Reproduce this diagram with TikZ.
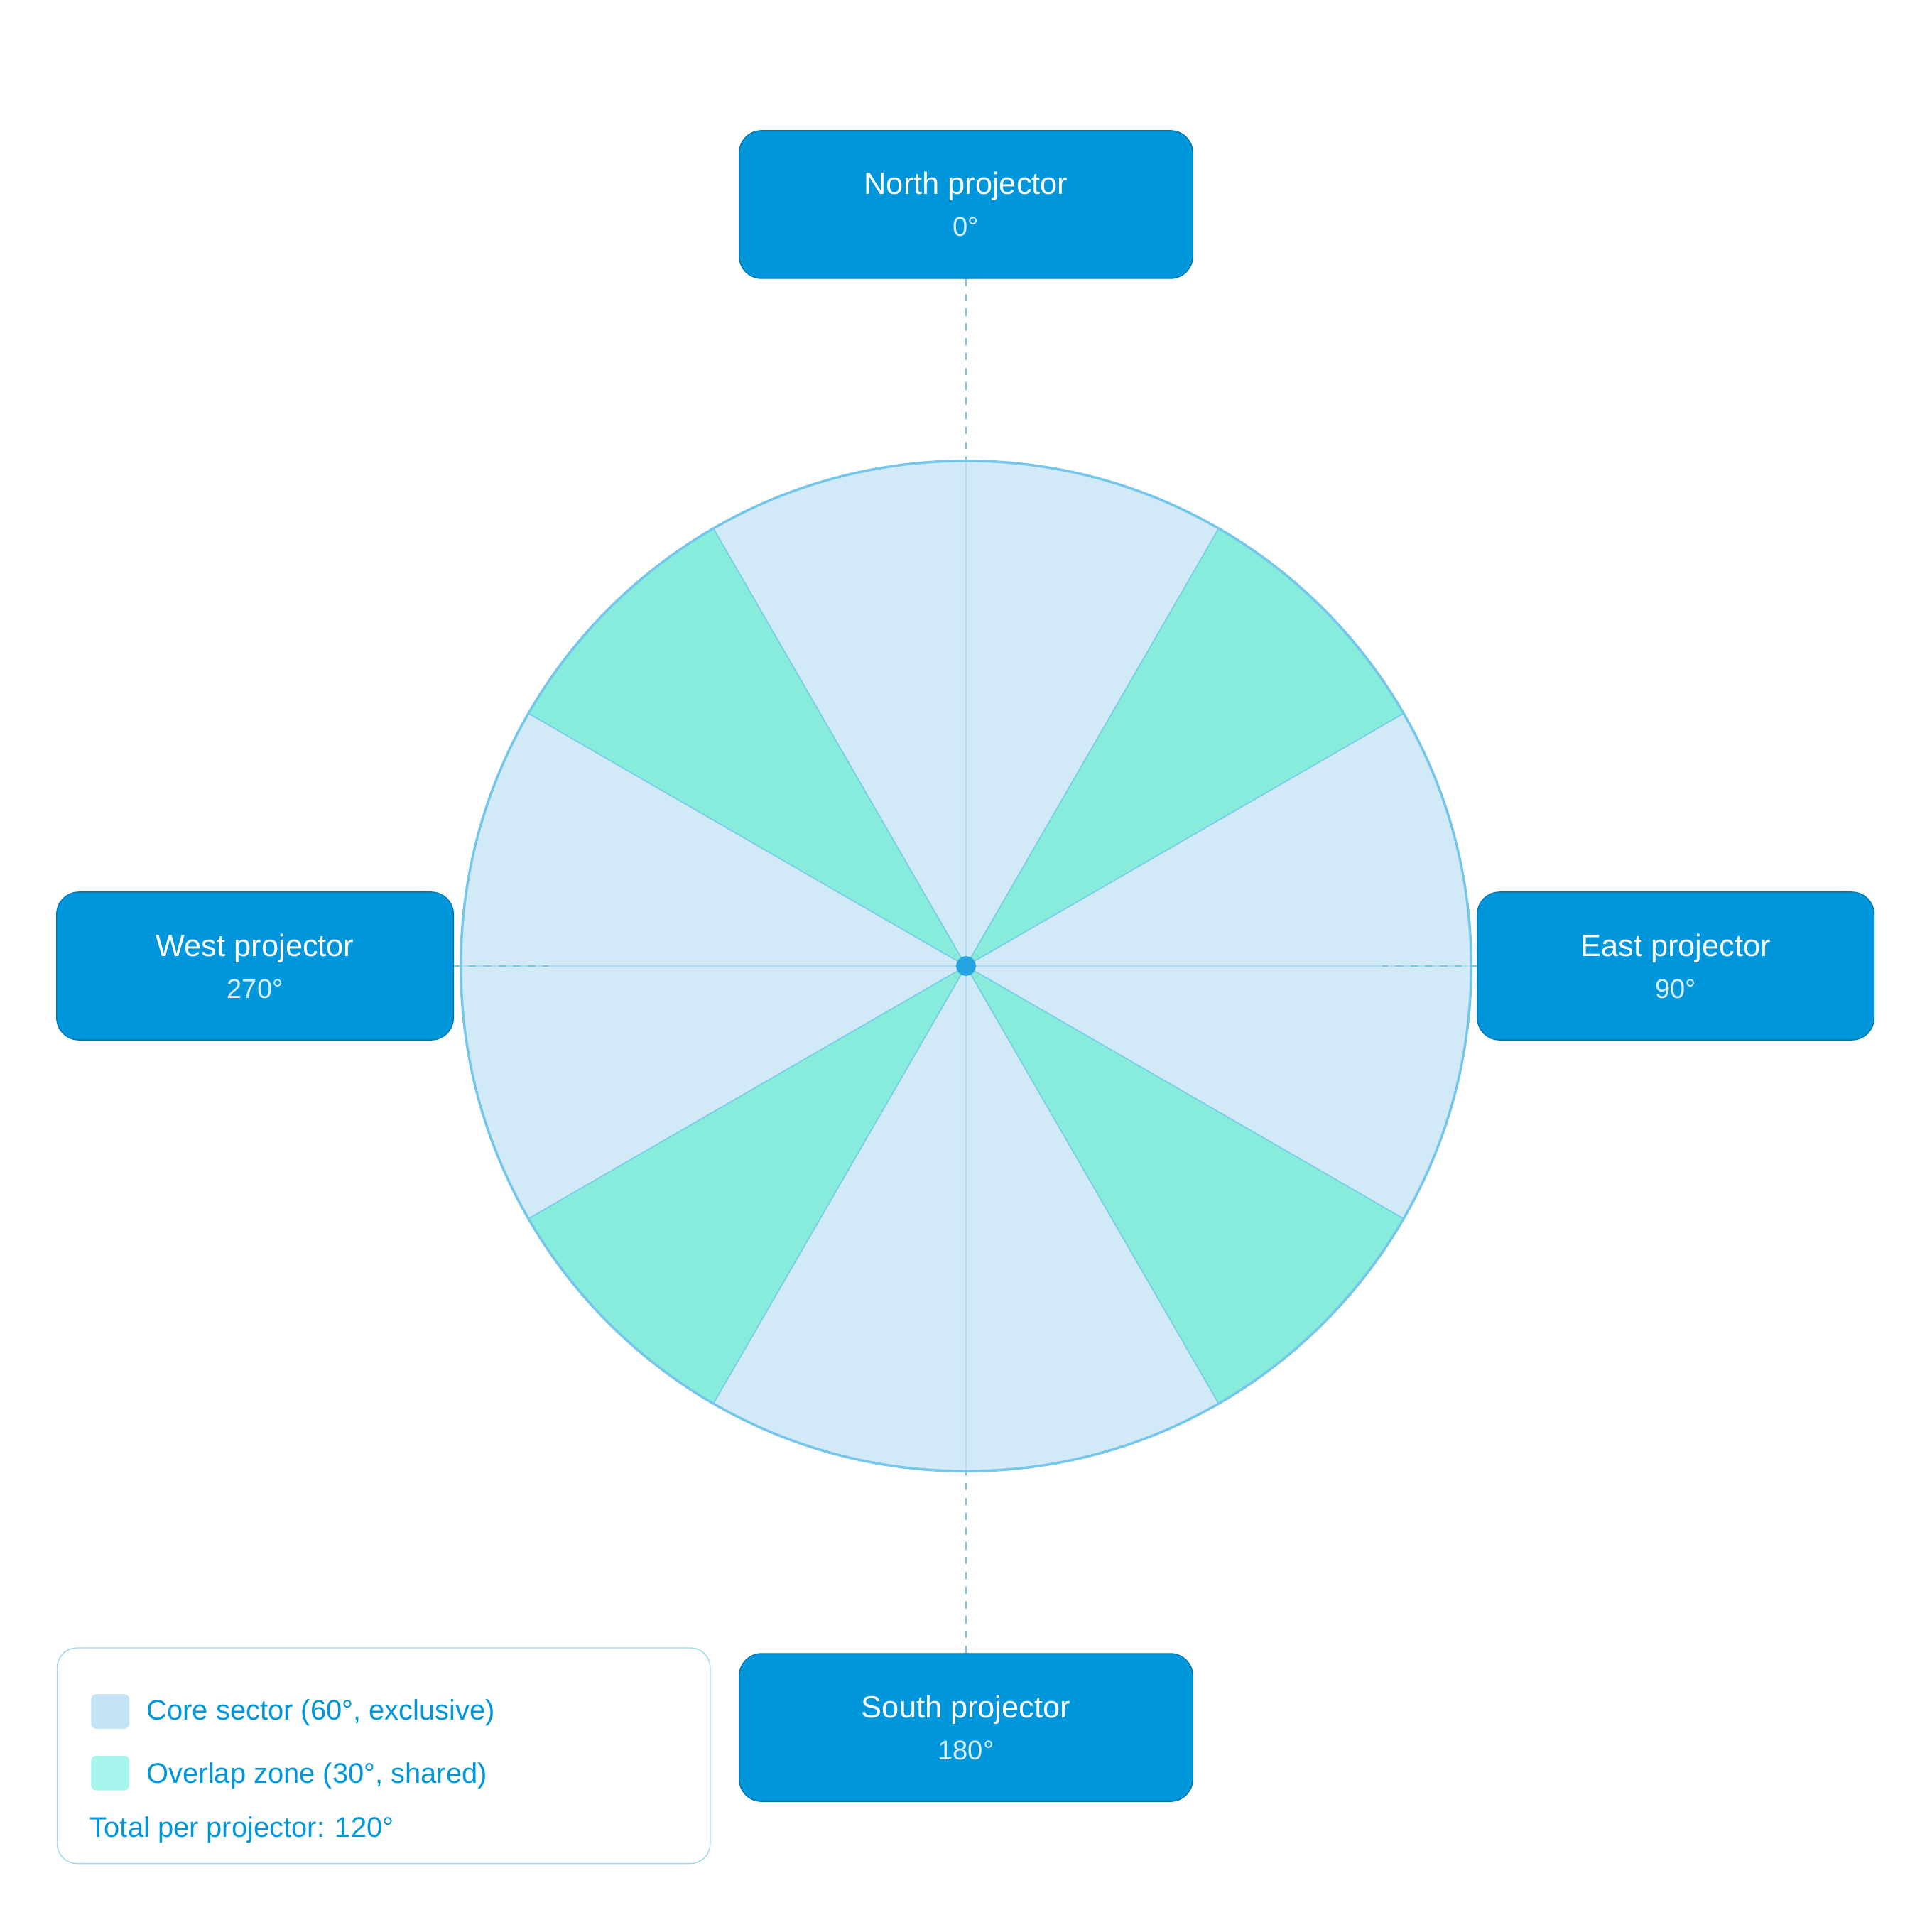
\documentclass[tikz,border=0pt]{standalone}
\usepackage{fontspec}
\setmainfont{Liberation Sans}
\definecolor{core}{HTML}{D2EAF7}
\definecolor{lap}{HTML}{88ECDC}
\definecolor{proj}{HTML}{0096DC}
\definecolor{rim}{HTML}{74C6EA}
\definecolor{sub}{HTML}{D8EEFA}
\tikzset{
  projbox/.style={draw=proj!80!black, fill=proj, rounded corners=9pt, minimum width=184pt, minimum height=60pt, align=center, text=white, font=\fontsize{12.5}{19}\selectfont},
  leader/.style={rim, dashed, line width=0.6pt},
  legtext/.style={anchor=west, text=proj, font=\fontsize{11.5}{14}\selectfont}
}
\begin{document}
\begin{tikzpicture}[x=0.5pt,y=-0.5pt]
        \useasboundingbox (0,0) rectangle (1568,1568);
        % sectors
        \foreach \a in {-30,60,150,240}
          \fill[core] (784,784) -- ++(\a:410) arc[start angle=\a,delta angle=60,radius=410] -- cycle;
        \foreach \a in {30,120,210,300}
          \fill[lap] (784,784) -- ++(\a:410) arc[start angle=\a,delta angle=30,radius=410] -- cycle;
        \foreach \a in {30,60,120,150,210,240,300,330}
          \draw[rim!80!lap, line width=0.5pt] (784,784) -- ++(\a:410);
        \draw[rim!60, line width=0.4pt] (374,784) -- (1194,784);
        \draw[rim!60, line width=0.4pt] (784,374) -- (784,1194);
        \draw[rim, line width=1pt] (784,784) circle[radius=410];
        \fill[proj!70!rim] (784,784) circle[radius=8];
        % projectors
        \node[projbox] (north) at (784,166) {North projector\\[-2pt]{\color{sub}\fontsize{11}{14}\selectfont 0°}};
        \node[projbox] (south) at (784,1402) {South projector\\[-2pt]{\color{sub}\fontsize{11}{14}\selectfont 180°}};
        \node[projbox, minimum width=161pt] (west) at (207,784) {West projector\\[-2pt]{\color{sub}\fontsize{11}{14}\selectfont 270°}};
        \node[projbox, minimum width=161pt] (east) at (1360,784) {East projector\\[-2pt]{\color{sub}\fontsize{11}{14}\selectfont 90°}};
        \coordinate (nend) at (784,374);
        \coordinate (send) at (784,1194);
        \coordinate (wend) at (445,784);
        \coordinate (eend) at (1122,784);
        \draw[leader] (north) -- (nend);
        \draw[leader] (south) -- (send);
        \draw[leader] (west) -- (wend);
        \draw[leader] (east) -- (eend);
        % legend
        \node[draw=rim!70, fill=white, rounded corners=8pt, minimum width=265pt, minimum height=87.5pt, anchor=north west] (legend) at (46,1337) {};
        \fill[core!85!rim, rounded corners=2pt] (74,1375) rectangle (105,1403);
        \fill[lap!80!cyan!60!white, rounded corners=2pt] (74,1425) rectangle (105,1453);
        \node[legtext] (lcore) at (112,1390) {Core sector (60°, exclusive)};
        \node[legtext] (llap) at (112,1441) {Overlap zone (30°, shared)};
        \node[legtext] (ltot) at (66,1485) {Total per projector: 120°};
      \end{tikzpicture}
\end{document}
